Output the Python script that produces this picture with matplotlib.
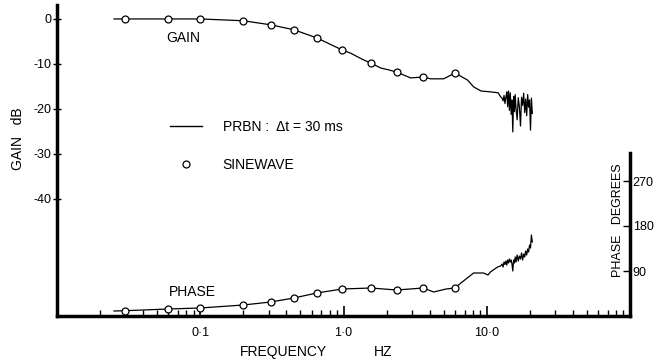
import matplotlib
matplotlib.use("Agg")
import matplotlib.pyplot as plt
from matplotlib.ticker import FixedLocator, LogLocator, NullFormatter
from matplotlib.lines import Line2D

plt.rcParams['font.family'] = ['Liberation Sans', 'DejaVu Sans']

# sinewave test points (Hz, dB, degrees)
sine_freq = [0.03, 0.06, 0.1, 0.2, 0.31, 0.45, 0.65, 0.98, 1.55, 2.35, 3.6, 6.0]
sine_gain = [0.0, 0.0, 0.0, -0.4, -1.3, -2.4, -4.2, -6.9, -9.8, -11.8, -12.9, -12.0]
sine_phase = [10.6, 14, 16, 22, 28, 36, 46, 54, 56, 52, 56, 56]

# PRBN trace, gain
prbn_gain_freq = [0.025, 0.03, 0.06, 0.1, 0.2, 0.31, 0.45, 0.65, 0.98, 1.12, 1.38,
                  1.55, 1.82, 2.06, 2.35, 2.94, 3.6, 4.06, 5.0, 5.3, 6.0, 7.36,
                  8.1, 9.1, 10.6, 12.0,
                  12.5, 12.8, 13.0, 13.2, 13.4, 13.6, 13.8, 14.0, 14.2, 14.4,
                  14.6, 14.8, 15.0, 15.2, 15.4, 15.6, 15.8, 16.0, 16.3, 16.6,
                  16.9, 17.2, 17.5, 17.8, 18.1, 18.4, 18.7, 19.0, 19.3, 19.6,
                  19.9, 20.2, 20.5, 20.8]
prbn_gain = [0.0, 0.0, 0.0, 0.0, -0.4, -1.3, -2.4, -4.2, -6.9, -7.6, -9.1,
             -9.8, -10.9, -11.3, -11.8, -13.1, -12.9, -13.3, -13.3, -12.9, -12.0, -13.6,
             -15.1, -16.0, -16.2, -16.4,
             -17.3, -17.6, -18.2, -17.0, -18.8, -17.4, -16.2, -19.5, -16.0, -20.3,
             -16.4, -21.2, -18.0, -25.1, -17.2, -20.6, -16.8, -19.8, -22.4, -17.5,
             -19.6, -23.8, -17.4, -19.2, -16.5, -20.8, -17.8, -21.5, -16.8, -19.6,
             -18.0, -24.7, -17.6, -21.0]

# PRBN trace, phase
prbn_phase_freq = [0.025, 0.03, 0.06, 0.1, 0.2, 0.31, 0.45, 0.65, 0.98, 1.55,
                   2.35, 3.6, 4.26, 5.2, 6.0, 6.6, 8.1, 9.5, 10.2, 10.6, 11.9,
                   12.5, 12.8, 13.0, 13.2, 13.4, 13.6, 13.8, 14.0, 14.2, 14.4,
                   14.6, 14.8, 15.0, 15.2, 15.4, 15.6, 15.8, 16.0, 16.3, 16.6,
                   16.9, 17.2, 17.5, 17.8, 18.1, 18.4, 18.7, 19.0, 19.3, 19.6,
                   19.9, 20.2, 20.5, 20.8]
prbn_phase = [10, 10.6, 14, 16, 22, 28, 36, 46, 54, 56,
              52, 56, 48, 54, 56, 66, 86, 86, 82, 88, 98,
              100, 104, 98, 108, 103, 110, 102, 112, 106, 114,
              108, 112, 104, 90, 112, 106, 118, 108, 122, 110,
              120, 114, 126, 112, 124, 118, 130, 122, 134, 128,
              142, 136, 162, 148]

gain_ticks = [0, -10, -20, -30, -40]
phase_ticks = [90, 180, 270]
freq_ticks = [0.1, 1, 10]
freq_labels = ['0\u00b71', '1\u00b70', '10\u00b70']

fig = plt.figure(figsize=(6.67, 3.64), dpi=100)
ax = fig.add_axes([57 / 667, 1 - 316 / 364, 573 / 667, 311 / 364])
ax2 = ax.twinx()

ax.plot(prbn_gain_freq, prbn_gain, color='black', lw=0.9)
ax.plot(sine_freq, sine_gain, 'o', ms=5, mfc='white', mec='black', mew=0.9)
ax2.plot(prbn_phase_freq, prbn_phase, color='black', lw=0.9)
ax2.plot(sine_freq, sine_phase, 'o', ms=5, mfc='white', mec='black', mew=0.9)

ax.set_xscale('log')
ax.set_xlim(0.01, 100)
ax.set_ylim(-66, 3.1)
ax2.set_ylim(0, 622)

for s in ['top', 'right']:
    ax.spines[s].set_visible(False)
for s in ['top', 'left', 'bottom']:
    ax2.spines[s].set_visible(False)
ax.spines['left'].set_linewidth(2.5)
ax.spines['bottom'].set_linewidth(2.5)
ax2.spines['right'].set_linewidth(2.5)
ax2.spines['right'].set_bounds(0, 326)

ax.xaxis.set_major_locator(FixedLocator(freq_ticks))
ax.set_xticklabels(freq_labels, fontsize=9)
ax.xaxis.set_minor_locator(LogLocator(base=10, subs=[2, 3, 4, 5, 6, 7, 8, 9]))
ax.xaxis.set_minor_formatter(NullFormatter())
ax.tick_params(axis='x', which='major', direction='in', length=7, width=1.2, pad=8)
ax.tick_params(axis='x', which='minor', direction='in', length=4, width=1)

ax.set_yticks(gain_ticks)
ax.set_yticklabels([str(t) for t in gain_ticks], fontsize=9)
ax.tick_params(axis='y', direction='inout', length=6, width=1, pad=1)

ax2.set_yticks(phase_ticks)
ax2.set_yticklabels([str(t) for t in phase_ticks], fontsize=9)
ax2.tick_params(axis='y', direction='in', length=5, width=1, pad=2)

ax.set_ylabel('GAIN   dB', fontsize=10)
ax.yaxis.set_label_coords(-0.056, 0.569)
ax2.set_ylabel('PHASE   DEGREES', fontsize=9)
ax2.yaxis.set_label_coords(0.9686, 0.309)

ax.text(0.396, -0.116, 'FREQUENCY', transform=ax.transAxes, fontsize=10,
        ha='center', va='center')
ax.text(0.569, -0.116, 'HZ', transform=ax.transAxes, fontsize=10,
        ha='center', va='center')

ax.text(0.076, -4.2, 'GAIN', fontsize=10, ha='center', va='center')
ax2.text(0.088, 48, 'PHASE', fontsize=10, ha='center', va='center')

handles = [Line2D([], [], color='black', lw=1),
           Line2D([], [], ls='none', marker='o', ms=5, mfc='white', mec='black', mew=0.9)]
fig.legend(handles, ['PRBN :  \u0394t = 30 ms', 'SINEWAVE'], loc='upper left',
           bbox_to_anchor=(170 / 667, 1 - 120 / 364), frameon=False, fontsize=10,
           borderpad=0, borderaxespad=0, handlelength=2.3, handletextpad=1.5,
           labelspacing=1.7, numpoints=1)

fig.savefig('out.png', dpi=100)
